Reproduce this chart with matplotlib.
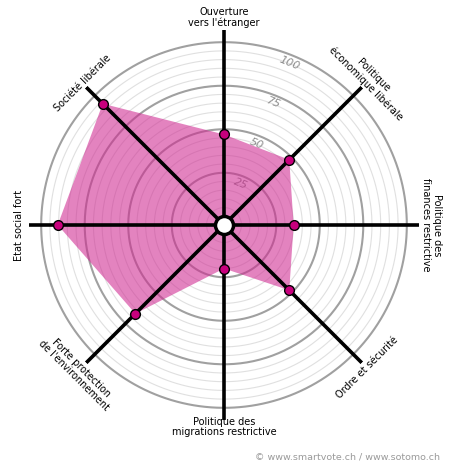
import numpy as np
import matplotlib
matplotlib.use("Agg")
import matplotlib.pyplot as plt

plt.rcParams['font.family'] = ['DejaVu Sans']

# axes, clockwise from the top
categories = [
    "Ouverture\nvers l'étranger",
    "Politique\néconomique libérale",
    "Politique des\nfinances restrictive",
    "Ordre et sécurité",
    "Politique des\nmigrations restrictive",
    "Forte protection\nde l'environnement",
    "Etat social fort",
    "Société libérale",
]
values = [47, 48, 35, 48, 20, 67, 90.5, 93.5]
ring_labels = [25, 50, 75, 100]

theta = np.deg2rad(np.arange(len(categories)) * 45.0)

fig = plt.figure(figsize=(4.5, 4.7), dpi=100)
ax = fig.add_axes([29 / 450, 50 / 470, 390 / 450, 390 / 470], projection='polar')
ax.set_theta_zero_location('N')
ax.set_theta_direction(-1)
ax.set_ylim(-5, 107)
ax.grid(False)
ax.set_xticks([])
ax.set_yticks([])
ax.spines['polar'].set_visible(False)

# rings
circ = np.linspace(0, 2 * np.pi, 400)
for r in range(5, 101, 5):
    if r % 25 == 0:
        ax.plot(circ, np.full_like(circ, r), color='#a0a0a0', lw=1.5, zorder=1)
    else:
        ax.plot(circ, np.full_like(circ, r), color='#e0e0e0', lw=0.8, zorder=1)

for r in ring_labels:
    ax.text(np.deg2rad(22), r - 4.5, str(r), color='#8c8c8c', fontsize=8,
            fontstyle='italic', rotation=-22, ha='center', va='center', zorder=2)

# filled profile
t = np.append(theta, theta[0])
v = np.append(values, values[0])
ax.fill(t, v, color='#d02a92', alpha=0.58, lw=0, zorder=3)

# spokes
for a in theta:
    ax.plot([a, a], [-5, 107], color='black', lw=2.6, solid_capstyle='butt', zorder=4)

ax.plot(theta, values, ls='none', marker='o', ms=7, mfc='#c8007d', mec='black',
        mew=1, zorder=5)
ax.plot([0], [-5], marker='o', ms=13, mfc='white', mec='black', mew=2.5, zorder=6)

# category labels
label_r = [114, 113, 114, 111, 111, 114, 113, 110]
label_rot = [0, -45, -90, 45, 0, -45, 90, 45]
for a, name, r, rot in zip(theta, categories, label_r, label_rot):
    ax.text(a, r, name, rotation=rot, rotation_mode='anchor', ha='center', va='center',
            multialignment='center', fontsize=7, linespacing=1.1)

fig.text(440 / 450, 1 - 457 / 470, "© www.smartvote.ch / www.sotomo.ch",
         color='#9a9a9a', fontsize=6.8, ha='right', va='center')

fig.savefig('out.png', dpi=100)
